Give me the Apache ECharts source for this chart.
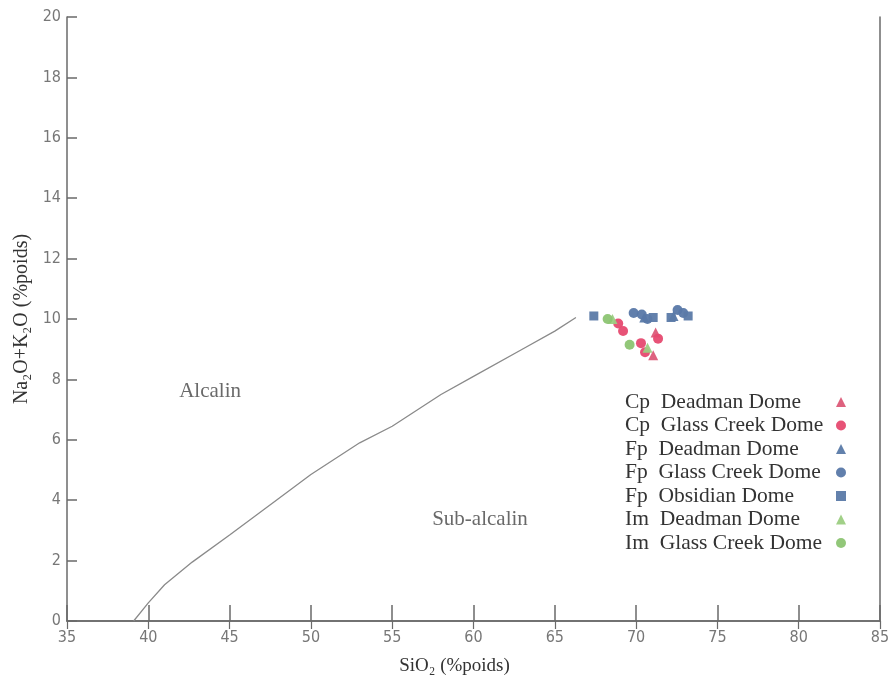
<!DOCTYPE html>
<html>
<head>
<meta charset="utf-8">
<script src="https://cdn.jsdelivr.net/npm/echarts@6/dist/echarts.min.js"></script>
<style>
  html, body { margin: 0; padding: 0; background: #fff; }
  #chart { width: 895px; height: 682px; }
</style>
</head>
<body>
<div id="chart"></div>
<script>
// ── Data ──────────────────────────────────────────────────────────────────────
// Alkaline / sub-alkaline boundary [SiO2, Na2O+K2O]
const boundary = [
  [39.1, 0], [40, 0.6], [41, 1.2], [42.7, 1.95], [45, 2.85], [48, 4.05],
  [50, 4.85], [53, 5.9], [55, 6.45], [58, 7.5], [60, 8.1], [63, 9.0],
  [65, 9.6], [66.3, 10.05],
];

const cpDeadman    = [[71.05, 8.8], [71.2, 9.55]];
const cpGlassCreek = [[68.9, 9.85], [69.2, 9.6], [70.3, 9.2], [70.55, 8.9], [71.35, 9.35]];
const fpDeadman    = [[70.5, 10.05], [72.3, 10.1]];
const fpGlassCreek = [[69.85, 10.2], [70.35, 10.15], [70.7, 10.0], [72.55, 10.3], [72.9, 10.2]];
const fpObsidian   = [[67.4, 10.1], [71.05, 10.05], [72.15, 10.05], [73.2, 10.1]];
const imDeadman    = [[68.55, 10.0], [70.7, 9.05]];
const imGlassCreek = [[68.25, 10.0], [69.6, 9.15]];

const regionLabels = [
  { name: 'Alcalin',     value: [43.8, 7.6] },
  { name: 'Sub-alcalin', value: [60.4, 3.35] },
];

const seriesDefs = [
  { name: 'Cp  Deadman Dome',     data: cpDeadman,    symbol: 'triangle', color: '#dc5a78' },
  { name: 'Cp  Glass Creek Dome', data: cpGlassCreek, symbol: 'circle',   color: '#e64a70' },
  { name: 'Fp  Deadman Dome',     data: fpDeadman,    symbol: 'triangle', color: '#5a7aa8' },
  { name: 'Fp  Glass Creek Dome', data: fpGlassCreek, symbol: 'circle',   color: '#5878a8' },
  { name: 'Fp  Obsidian Dome',    data: fpObsidian,   symbol: 'rect',     color: '#5b7aa8' },
  { name: 'Im  Deadman Dome',     data: imDeadman,    symbol: 'triangle', color: '#9ccd82' },
  { name: 'Im  Glass Creek Dome', data: imGlassCreek, symbol: 'circle',   color: '#8cc472' },
];

// ── Chart ─────────────────────────────────────────────────────────────────────
const serif = '"Liberation Serif", "DejaVu Serif", serif';
const narrow = '"Liberation Sans Narrow", "DejaVu Sans Condensed", "Liberation Sans", sans-serif';
const axisColor = '#6a6a6a';

const chart = echarts.init(document.getElementById('chart'), null, { renderer: 'canvas' });

chart.setOption({
  animation: false,
  backgroundColor: '#fff',
  grid: { left: 67, right: 15, top: 17, bottom: 61, containLabel: false, outerBoundsMode: 'none' },
  xAxis: [{
    type: 'value',
    min: 35, max: 85, interval: 5,
    name: 'SiO₂ (%poids)',
    nameLocation: 'middle',
    nameGap: 36,
    nameTextStyle: { fontFamily: serif, fontSize: 19, color: '#333', padding: [0, 38, 0, 0] },
    axisLine: { lineStyle: { color: axisColor, width: 1.5 } },
    axisTick: { inside: true, length: 16, lineStyle: { color: axisColor, width: 1.5 } },
    axisLabel: { margin: 9, fontFamily: narrow, fontSize: 16, color: '#777' },
    splitLine: { show: false },
  }, {
    type: 'value', position: 'top',
    min: 35, max: 85, interval: 5,
    axisLine: { show: true, lineStyle: { color: axisColor, width: 1.5 } },
    axisTick: { inside: true, length: 8, lineStyle: { color: axisColor, width: 1.2 } },
    axisLabel: { show: false },
    splitLine: { show: false },
  }],
  yAxis: [{
    type: 'value',
    min: 0, max: 20, interval: 2,
    name: 'Na₂O+K₂O (%poids)',
    nameLocation: 'middle',
    nameGap: 35,
    nameTextStyle: { fontFamily: serif, fontSize: 20, color: '#333' },
    axisLine: { show: true, lineStyle: { color: axisColor, width: 1.5 } },
    axisTick: { show: true, inside: true, length: 10, lineStyle: { color: axisColor, width: 1.5 } },
    axisLabel: { margin: 6, fontFamily: narrow, fontSize: 16, color: '#777' },
    splitLine: { show: false },
  }, {
    type: 'value', position: 'right',
    min: 0, max: 20, interval: 2,
    axisLine: { show: true, lineStyle: { color: axisColor, width: 1.5 } },
    axisTick: { show: false },
    axisLabel: { show: false },
    splitLine: { show: false },
  }],
  legend: {
    orient: 'vertical',
    left: 620,
    top: 386,
    align: 'right',
    itemWidth: 10,
    itemHeight: 10,
    itemGap: 1.5,
    data: seriesDefs.map(s => s.name),
    formatter: name => '{t|' + name + '}',
    textStyle: {
      rich: {
        t: { fontFamily: serif, fontSize: 21.5, lineHeight: 21, color: '#333', width: 206, align: 'left' },
      },
    },
  },
  series: [
    {
      type: 'line',
      data: boundary,
      showSymbol: false,
      symbol: 'none',
      silent: true,
      lineStyle: { color: '#8a8a8a', width: 1.3 },
      z: 1,
    },
    {
      type: 'scatter',
      data: regionLabels,
      symbolSize: 0,
      silent: true,
      label: {
        show: true,
        position: 'inside',
        formatter: p => p.name,
        fontFamily: serif,
        fontSize: 21,
        color: '#444',
      },
    },
    ...seriesDefs.map(s => ({
      type: 'scatter',
      name: s.name,
      data: s.data,
      symbol: s.symbol,
      symbolSize: s.symbol === 'rect' ? 9 : 10,
      itemStyle: { color: s.color, opacity: 0.95 },
      z: 3,
    })),
  ],
});
</script>
</body>
</html>
